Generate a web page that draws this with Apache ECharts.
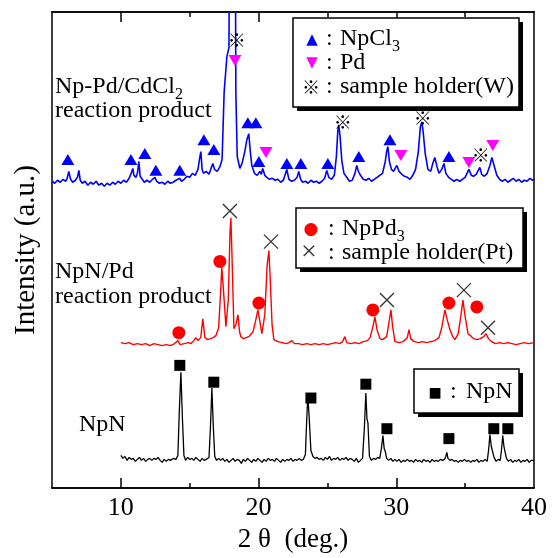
<!DOCTYPE html>
<html>
<head>
<meta charset="utf-8">
<script src="https://cdn.jsdelivr.net/npm/echarts@6/dist/echarts.min.js"></script>
<style>
html,body{margin:0;padding:0;background:#fff;}
#chart{width:555px;height:558px;}
</style>
</head>
<body>
<div id="chart"></div>
<script>
// ---- data (x = 2θ in degrees, y = intensity in arbitrary units) ----
const xMin = 5, xMax = 40;
const yMin = 0, yMax = 481;
const majorTicks = [10, 20, 30];
const minorTicks = [15, 25, 35];
const tickLabels = [10, 20, 30, 40];

// Np-Pd/CdCl2 reaction product (blue)
const blueTrace = [[5.0,310],[5.2,308],[5.4,311],[5.6,309],[5.8,312],[6.0,310],[6.1,313],[6.22,320],[6.35,312],[6.5,309],[6.7,311],[6.85,314],[6.95,321],[7.05,311],[7.2,308],[7.4,310],[7.6,306],[7.8,309],[8.0,307],[8.2,310],[8.4,306],[8.6,308],[8.8,305],[9.0,308],[9.2,306],[9.4,309],[9.6,307],[9.8,310],[10.0,308],[10.2,311],[10.4,309],[10.6,313],[10.75,318],[10.87,323],[10.95,316],[11.1,314],[11.2,318],[11.31,330],[11.4,315],[11.55,312],[11.7,309],[11.9,311],[12.1,309],[12.3,312],[12.47,314],[12.6,310],[12.8,308],[13.0,309],[13.2,307],[13.4,310],[13.6,308],[13.8,309],[14.0,311],[14.28,313],[14.4,310],[14.6,312],[14.8,315],[15.0,314],[15.2,318],[15.4,316],[15.6,322],[15.72,333],[15.81,340],[15.9,322],[16.0,318],[16.2,320],[16.4,317],[16.55,323],[16.68,328],[16.8,322],[17.0,320],[17.2,325],[17.35,332],[17.5,400],[17.7,436],[17.85,445],[17.93,700],[18.28,700],[18.35,400],[18.45,335],[18.64,323],[18.8,328],[19.0,340],[19.15,352],[19.29,358],[19.4,340],[19.51,326],[19.7,318],[19.9,316],[20.09,320],[20.2,317],[20.3,323],[20.45,316],[20.6,314],[20.8,312],[21.0,313],[21.2,311],[21.4,312],[21.6,309],[21.8,311],[22.05,322],[22.2,312],[22.4,310],[22.6,311],[22.8,314],[22.92,320],[23.05,312],[23.2,309],[23.4,310],[23.6,308],[23.8,311],[24.0,309],[24.2,310],[24.4,308],[24.6,310],[24.8,313],[24.95,321],[25.1,314],[25.3,312],[25.5,316],[25.65,335],[25.75,360],[25.82,367],[25.92,355],[26.05,330],[26.2,318],[26.4,314],[26.6,310],[26.8,311],[27.0,318],[27.13,326],[27.25,320],[27.4,316],[27.6,312],[27.8,311],[28.0,313],[28.2,310],[28.4,312],[28.6,314],[28.8,316],[29.0,318],[29.2,330],[29.3,340],[29.39,345],[29.5,330],[29.65,322],[29.8,320],[30.04,326],[30.2,320],[30.4,317],[30.6,315],[30.8,314],[31.0,312],[31.2,316],[31.4,322],[31.6,340],[31.75,365],[31.86,370],[31.95,360],[32.1,338],[32.3,322],[32.5,320],[32.65,328],[32.8,334],[32.95,325],[33.1,318],[33.3,322],[33.46,328],[33.6,318],[33.8,314],[34.0,312],[34.2,310],[34.4,312],[34.6,310],[34.8,312],[35.0,314],[35.27,322],[35.45,316],[35.6,315],[35.8,317],[36.07,324],[36.2,317],[36.4,315],[36.6,318],[36.8,326],[36.94,334],[37.1,326],[37.3,316],[37.5,312],[37.7,310],[37.9,312],[38.1,309],[38.3,311],[38.5,313],[38.7,310],[38.9,312],[39.1,309],[39.3,311],[39.5,310],[39.7,313],[39.9,311],[40.0,312]];

// NpN/Pd reaction product (red)
const redTrace = [[10.0,147],[10.3,146],[10.6,147],[10.9,145],[11.2,146],[11.5,145],[11.8,146],[12.1,144],[12.4,146],[12.7,145],[13.0,144],[13.3,145],[13.6,144],[13.9,146],[14.14,149],[14.3,145],[14.6,146],[14.9,147],[15.1,146],[15.3,149],[15.45,152],[15.6,149],[15.8,152],[15.95,171],[16.1,152],[16.3,150],[16.5,151],[16.7,152],[16.9,154],[17.1,162],[17.25,200],[17.33,223],[17.45,200],[17.63,163],[17.8,190],[17.93,260],[17.99,273],[18.06,240],[18.21,161],[18.35,165],[18.5,175],[18.62,158],[18.71,153],[18.9,151],[19.1,152],[19.3,153],[19.6,158],[19.8,170],[19.95,180],[20.1,168],[20.24,156],[20.45,175],[20.62,225],[20.75,240],[20.85,210],[20.98,165],[21.11,150],[21.4,148],[21.7,147],[22.0,146],[22.2,147],[22.42,149],[22.6,146],[22.9,146],[23.2,145],[23.5,146],[23.8,145],[24.1,146],[24.4,145],[24.7,146],[25.0,145],[25.3,146],[25.6,147],[25.9,146],[26.1,148],[26.27,153],[26.4,147],[26.7,146],[27.0,147],[27.3,146],[27.6,148],[27.9,149],[28.1,152],[28.3,163],[28.45,173],[28.6,160],[28.81,151],[29.0,150],[29.3,153],[29.5,170],[29.61,180],[29.72,165],[29.9,148],[30.2,147],[30.5,148],[30.8,152],[30.92,160],[31.05,151],[31.3,148],[31.6,147],[31.9,148],[32.2,147],[32.5,148],[32.8,149],[33.1,152],[33.3,162],[33.53,180],[33.7,170],[33.9,160],[34.1,153],[34.26,150],[34.5,156],[34.7,175],[34.84,190],[34.98,175],[35.21,156],[35.4,154],[35.6,151],[35.86,150],[36.1,151],[36.35,153],[36.51,156],[36.7,151],[36.9,148],[37.2,146],[37.5,147],[37.8,146],[38.1,147],[38.4,146],[38.7,145],[39.0,146],[39.3,147],[39.6,146],[40.0,147]];

// NpN (black)
const blackTrace = [[10.0,33],[10.15,30],[10.3,32],[10.45,28],[10.6,31],[10.75,29],[10.9,30],[11.05,27],[11.2,29],[11.35,31],[11.5,28],[11.65,30],[11.8,27],[11.95,29],[12.1,30],[12.25,28],[12.4,30],[12.55,29],[12.7,31],[12.85,28],[13.0,26],[13.15,29],[13.3,27],[13.45,29],[13.6,28],[13.8,30],[14.0,29],[14.14,33],[14.25,80],[14.36,117],[14.47,70],[14.58,33],[14.7,28],[14.85,31],[15.0,29],[15.15,30],[15.3,28],[15.45,31],[15.6,29],[15.75,27],[15.9,30],[16.05,28],[16.2,29],[16.4,31],[16.5,60],[16.61,101],[16.72,60],[16.82,32],[16.95,28],[17.1,30],[17.25,28],[17.4,30],[17.55,27],[17.7,29],[17.85,26],[18.0,28],[18.15,30],[18.3,27],[18.45,29],[18.6,28],[18.75,25],[18.9,29],[19.05,27],[19.2,30],[19.35,28],[19.5,26],[19.65,29],[19.8,27],[19.95,30],[20.1,28],[20.25,26],[20.4,29],[20.55,27],[20.7,30],[20.85,28],[21.0,29],[21.15,27],[21.3,30],[21.45,28],[21.6,26],[21.75,29],[21.9,27],[22.05,29],[22.2,28],[22.35,30],[22.5,27],[22.65,29],[22.8,28],[22.95,30],[23.1,28],[23.25,29],[23.4,34],[23.5,70],[23.58,93],[23.68,70],[23.8,38],[23.95,32],[24.1,30],[24.25,31],[24.4,29],[24.55,30],[24.7,28],[24.85,31],[25.0,29],[25.15,32],[25.3,28],[25.45,30],[25.6,29],[25.75,31],[25.9,28],[26.05,30],[26.2,29],[26.35,31],[26.5,28],[26.65,30],[26.8,29],[26.95,27],[27.1,30],[27.25,26],[27.4,28],[27.55,30],[27.68,60],[27.79,96],[27.87,70],[27.94,66],[28.05,32],[28.2,28],[28.35,30],[28.5,29],[28.65,31],[28.8,30],[28.92,40],[29.03,53],[29.12,40],[29.2,37],[29.3,30],[29.45,28],[29.6,30],[29.75,27],[29.9,29],[30.05,27],[30.2,29],[30.35,26],[30.5,28],[30.65,27],[30.8,29],[30.95,27],[31.1,28],[31.25,26],[31.4,29],[31.55,27],[31.7,28],[31.85,26],[32.0,29],[32.15,27],[32.3,28],[32.45,26],[32.6,29],[32.75,27],[32.9,28],[33.05,27],[33.2,29],[33.35,28],[33.5,29],[33.6,32],[33.67,36],[33.75,30],[33.9,28],[34.05,29],[34.2,27],[34.35,28],[34.5,26],[34.65,28],[34.8,27],[34.95,29],[35.1,27],[35.25,28],[35.4,26],[35.55,28],[35.7,27],[35.85,29],[36.0,26],[36.15,28],[36.3,27],[36.45,29],[36.6,27],[36.7,38],[36.8,54],[36.9,42],[37.01,40],[37.1,31],[37.25,27],[37.4,29],[37.55,28],[37.65,40],[37.73,53],[37.82,42],[37.9,40],[38.0,30],[38.15,27],[38.3,29],[38.45,26],[38.6,28],[38.75,27],[38.9,29],[39.05,26],[39.2,28],[39.35,27],[39.5,29],[39.65,26],[39.8,28],[40.0,28]];

// peak identification markers
const npcl3Marks = [[6.15,332],[10.73,332],[11.74,338],[12.54,321],[14.28,321],[16.03,352],[16.75,342],[19.22,369],[19.8,369],[20.02,330],[22.05,328],[23.07,328],[25.03,328],[27.28,335],[29.54,352],[33.82,335]];
const pdMarks = [[18.29,432],[20.54,339],[30.33,336],[35.27,329],[37.01,346]];
const wHolderMarks = [[18.42,453],[26.11,370],[31.93,374],[36.14,336]];
const npPd3Marks = [[14.21,157],[17.19,229],[20.02,187],[28.3,180],[33.82,187],[35.85,183]];
const ptHolderMarks = [[17.92,280],[20.9,249],[29.32,190],[34.91,200],[36.66,162]];
const npnMarks = [[14.28,124],[16.75,107],[23.8,91],[27.79,105],[29.32,60],[33.82,50],[37.08,60],[38.1,60]];

// ---- chart ----
const SERIF = '"Liberation Serif", "Times New Roman", serif';
const chart = echarts.init(document.getElementById('chart'), null, {renderer: 'canvas'});

function xAxisDef(pos, ticks, len, labels, extra) {
  return Object.assign({
    type: 'value', position: pos, min: xMin, max: xMax, interval: 5,
    axisLine: {show: true, onZero: false, lineStyle: {color: '#000', width: 1.5}},
    axisTick: {show: true, inside: true, length: len, customValues: ticks, lineStyle: {color: '#000', width: 1.5}},
    axisLabel: labels ? {show: true, customValues: labels, fontSize: 26, fontFamily: SERIF, color: '#000', margin: 7} : {show: false},
    splitLine: {show: false}
  }, extra || {});
}

const lineSeries = (data, color, w) => ({
  type: 'line', data: data, showSymbol: false, symbol: 'none', clip: true,
  lineStyle: {color: color, width: w}, silent: true, animation: false, z: 2
});
const markSeries = (data, symbol, size, color, extra) => Object.assign({
  type: 'scatter', data: data, symbol: symbol, symbolSize: size,
  itemStyle: {color: color, opacity: 1}, silent: true, animation: false, z: 5, clip: false
}, extra || {});

function legendBox(x, y, w, h) {
  return [
    {type: 'rect', shape: {x: x + 4, y: y + 4, width: w, height: h}, style: {fill: '#000'}, z: 100},
    {type: 'rect', shape: {x: x, y: y, width: w, height: h}, style: {fill: '#fff', stroke: '#000', lineWidth: 1.5}, z: 101}
  ];
}
function txt(x, y, text, size, extra) {
  return {type: 'text', z: 102, style: Object.assign({
    x: x, y: y, text: text, font: size + 'px ' + SERIF, fill: '#000',
    verticalAlign: 'middle', textVerticalAlign: 'middle', align: 'left'
  }, extra || {})};
}
function sym(x, y, ch, size, color, font) {
  return {type: 'text', z: 102, style: {
    x: x, y: y, text: ch, font: size + 'px ' + (font || '"DejaVu Sans"'), fill: color,
    align: 'center', verticalAlign: 'middle', textAlign: 'center', textVerticalAlign: 'middle'
  }};
}
const richSub = {
  t: {fontSize: 24, fontFamily: SERIF, color: '#000'},
  s: {fontSize: 16, fontFamily: SERIF, color: '#000', padding: [16, 0, 0, 0]}
};

const graphics = [].concat(
  legendBox(293, 18, 226, 89),
  [
    sym(312, 40, '▲', 15, '#0000ff'),
    txt(326, 39, ':', 24),
    txt(340, 39, '{t|NpCl}{s|3}', 24, {rich: richSub}),
    sym(312, 63, '▼', 15, '#ff00ff'),
    txt(326, 63, ':', 24),
    txt(340, 63, 'Pd', 24),
    sym(311, 87, '※', 18, '#000', '"Noto Sans CJK JP"'),
    txt(326, 87, ':', 24),
    txt(340, 87, 'sample holder(W)', 24)
  ],
  legendBox(296, 208, 227, 60),
  [
    sym(311, 230, '●', 17, '#ff0000'),
    txt(328, 229, ':', 24),
    txt(342, 229, '{t|NpPd}{s|3}', 24, {rich: richSub}),
    sym(309, 253, '×', 28, '#333', SERIF),
    txt(328, 253, ':', 24),
    txt(342, 253, 'sample holder(Pt)', 24)
  ],
  legendBox(414, 369, 105, 44),
  [
    sym(435, 393, '■', 14, '#000'),
    txt(450, 392, ':', 24),
    txt(466, 392, 'NpN', 24)
  ],
  [
    txt(55, 87, '{t|Np-Pd/CdCl}{s|2}', 24, {rich: richSub}),
    txt(55, 111, 'reaction product', 24),
    txt(55, 272, 'NpN/Pd', 24),
    txt(55, 297, 'reaction product', 24),
    txt(79, 425, 'NpN', 24)
  ]
);

const option = {
  backgroundColor: '#fff',
  animation: false,
  grid: {left: 52, right: 21, top: 12, bottom: 65, containLabel: false},
  xAxis: [
    xAxisDef('bottom', majorTicks, 10, tickLabels, {
      name: '2 θ  (deg.)', nameLocation: 'middle', nameGap: 37,
      nameTextStyle: {fontSize: 27, fontFamily: SERIF, color: '#000'}
    }),
    xAxisDef('bottom', minorTicks, 5, null),
    xAxisDef('top', majorTicks, 10, null),
    xAxisDef('top', minorTicks, 5, null)
  ],
  yAxis: [
    {type: 'value', position: 'left', min: yMin, max: yMax,
     name: 'Intensity (a.u.)', nameLocation: 'middle', nameGap: 11,
     nameTextStyle: {fontSize: 29, fontFamily: SERIF, color: '#000'},
     axisLine: {show: true, lineStyle: {color: '#000', width: 1.5}},
     axisTick: {show: false}, axisLabel: {show: false}, splitLine: {show: false}},
    {type: 'value', position: 'right', min: yMin, max: yMax,
     axisLine: {show: true, lineStyle: {color: '#000', width: 1.5}},
     axisTick: {show: false}, axisLabel: {show: false}, splitLine: {show: false}}
  ],
  series: [
    lineSeries(blueTrace, '#0000ff', 1.6),
    lineSeries(redTrace, '#ff0000', 1.4),
    lineSeries(blackTrace, '#000000', 1.3),
    markSeries(npcl3Marks, 'triangle', [13, 11], '#0000ff'),
    markSeries(pdMarks, 'triangle', [13, 11], '#ff00ff', {symbolRotate: 180}),
    markSeries(wHolderMarks, 'circle', 1, 'rgba(0,0,0,0)', {
      label: {show: true, position: 'inside', formatter: '※', fontSize: 18,
              fontFamily: '"Noto Sans CJK JP"', color: '#000'}
    }),
    markSeries(npPd3Marks, 'circle', 13, '#ff0000'),
    markSeries(ptHolderMarks, 'path://M0,0L10,10M10,0L0,10', 14, 'rgba(0,0,0,0)', {
      itemStyle: {color: 'rgba(0,0,0,0)', borderColor: '#333', borderWidth: 1.3, opacity: 1}
    }),
    markSeries(npnMarks, 'rect', 11, '#000000')
  ],
  graphic: graphics
};
chart.setOption(option);
</script>
</body>
</html>
